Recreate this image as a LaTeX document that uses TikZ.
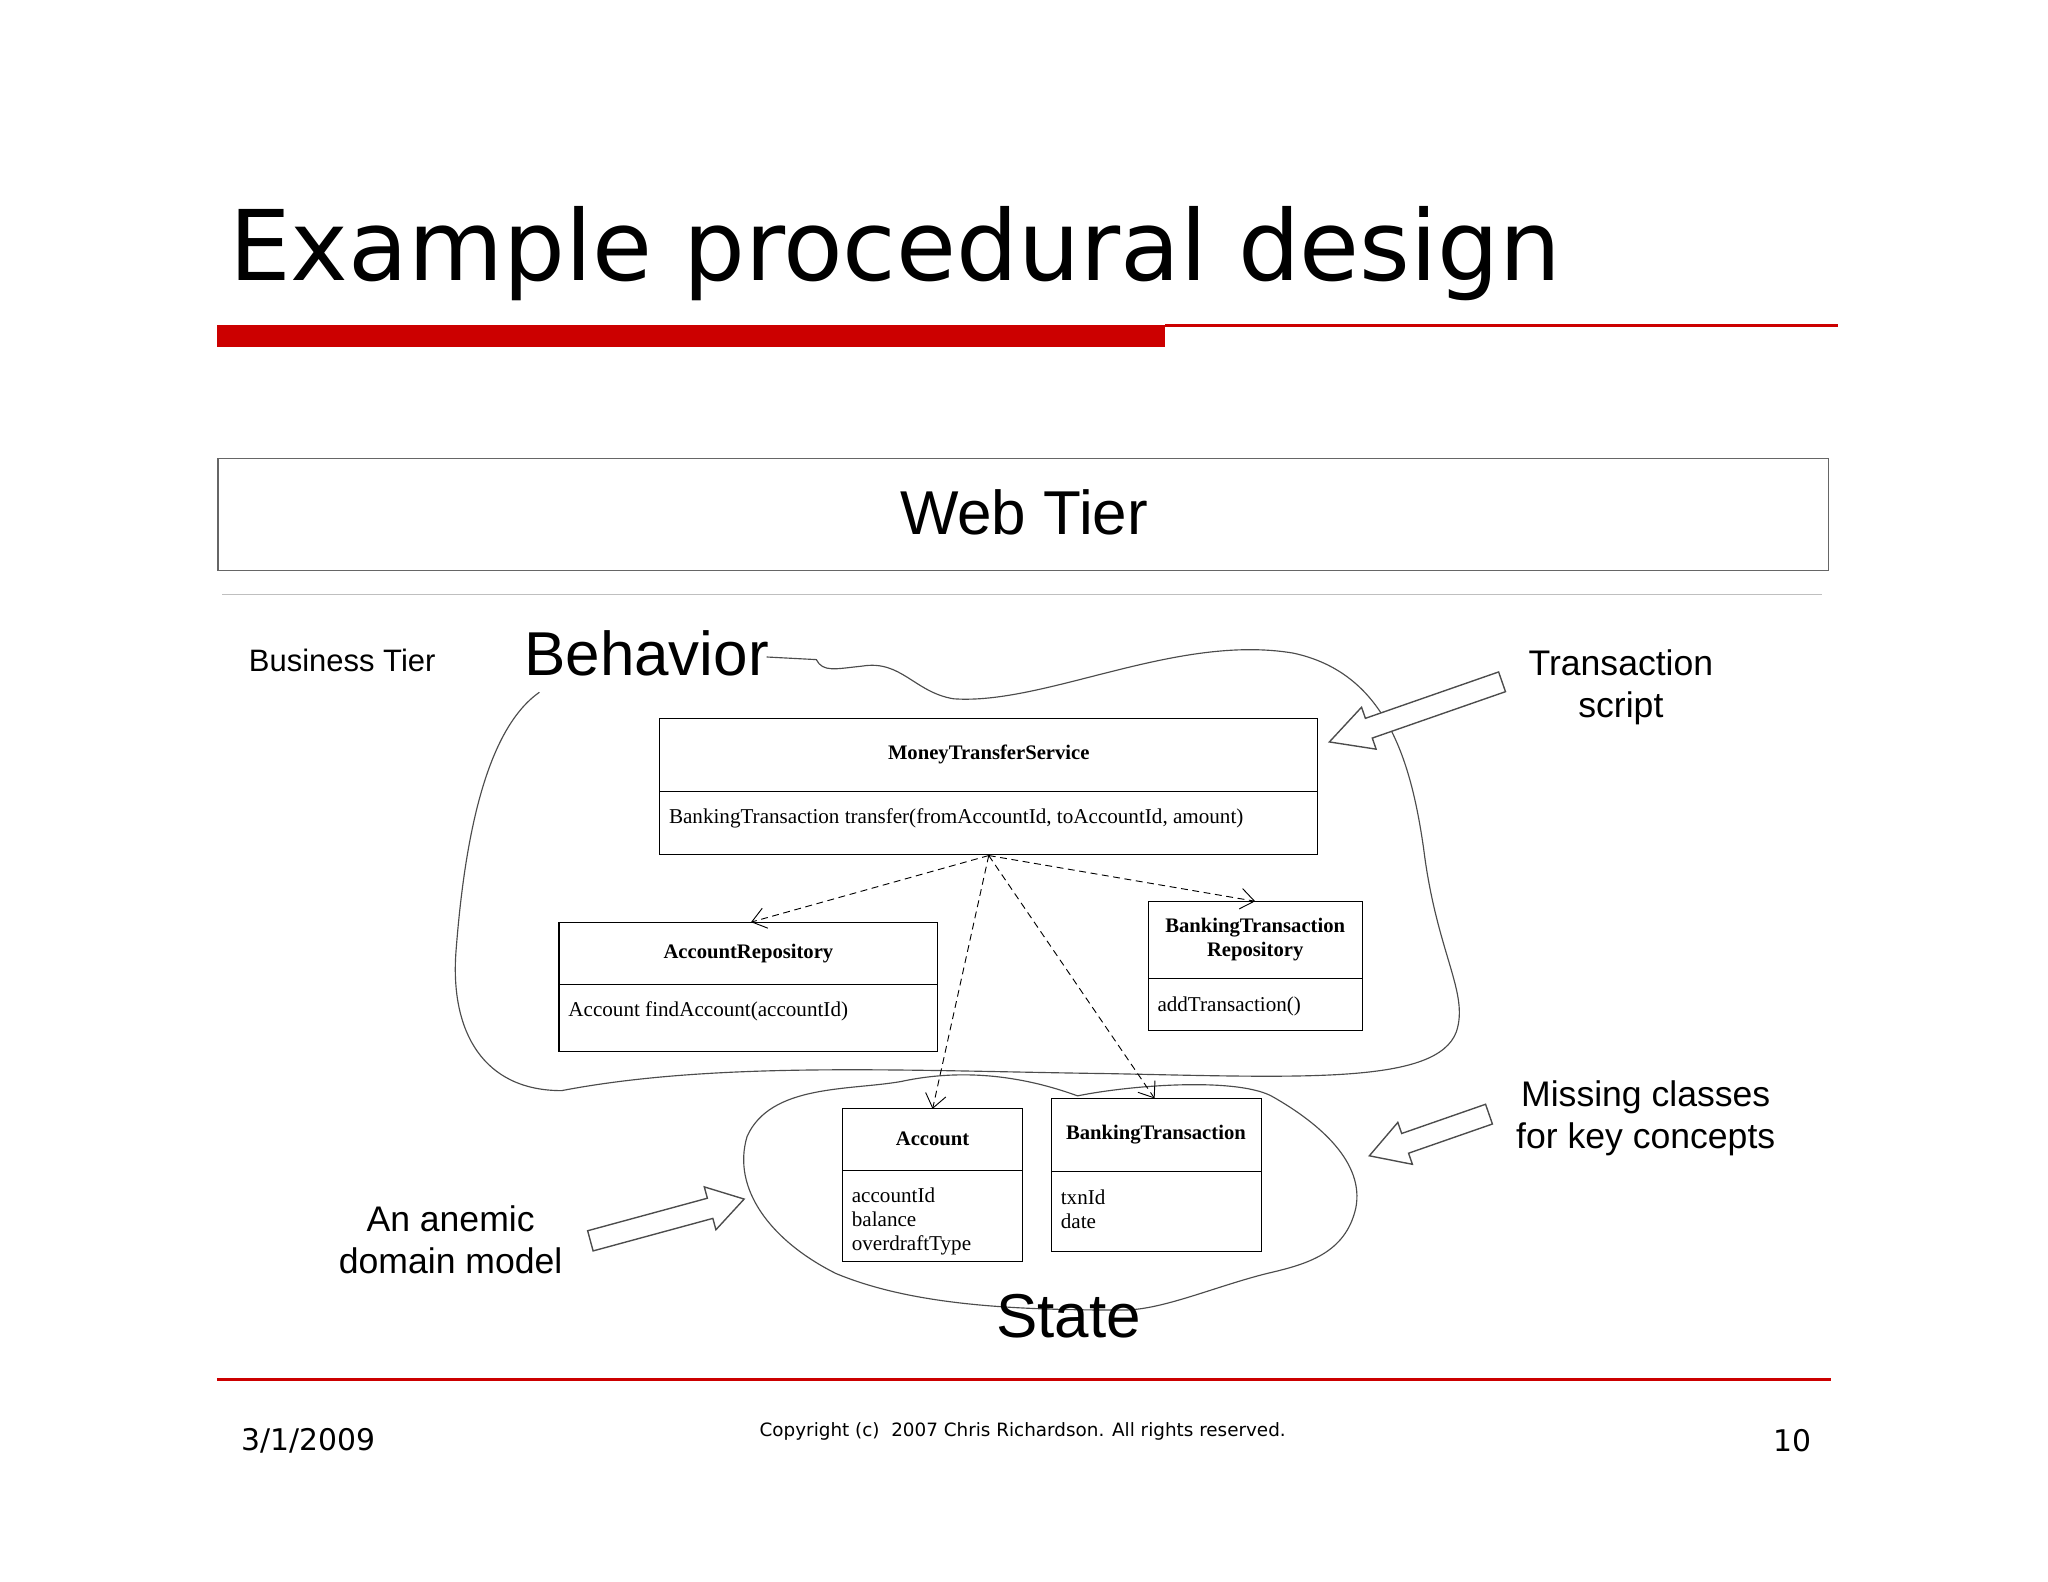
\documentclass[tikz,border=0pt]{standalone}
\usepackage{fontspec}
\setmainfont{Liberation Serif}
\newfontfamily\dv{DejaVu Sans}
\newfontfamily\ar{Liberation Sans}
\usetikzlibrary{arrows.meta}
\begin{document}
\begin{tikzpicture}[x=0.02cm,y=-0.02cm,
  cls/.style={draw,line width=0.5pt,inner sep=0pt},
  dep/.style={densely dashed,line width=0.4pt,-{Straight Barb[length=6pt,width=9pt]}},
  blob/.style={draw=black!70,line width=0.5pt},
  barrow/.style={draw=black!70,line width=0.6pt,fill=white},
  ttl/.style={font=\fontsize{9}{10.5}\selectfont\bfseries},
  body/.style={font=\fontsize{9.2}{10.5}\selectfont,anchor=north west,align=left}]
\useasboundingbox (0,0) rectangle (1568,1211);
\fill[white] (0,0) rectangle (1568,1211);
\node[anchor=base west,inner sep=0,font=\dv\fontsize{42.5}{48}\selectfont] (title) at (175,215) {Example procedural design};
\fill[red!80!black] (166,249) rectangle (892,266);
\draw[red!80!black,line width=1.2pt] (892,249) -- (1407,249);
\draw[black!60,line width=0.6pt] (167,351) rectangle (1400,437);
\node[font=\ar\fontsize{27}{32}\selectfont] (web) at (784,392) {Web Tier};
\draw[black!25,line width=0.4pt] (170,455) -- (1395,455);
\node[font=\ar\fontsize{13.5}{16}\selectfont] (bt) at (262,506) {Business Tier};
\node[font=\ar\fontsize{27}{32}\selectfont] (beh) at (495,500) {Behavior};
% behavior blob
\draw[blob] (587,503) -- (625,505) .. controls (630,515) and (640,512) .. (660,510)
  .. controls (690,505) and (700,530) .. (730,535)
  .. controls (800,540) and (900,485) .. (990,500)
  .. controls (1060,515) and (1080,580) .. (1090,650)
  .. controls (1100,730) and (1125,760) .. (1115,790)
  .. controls (1100,830) and (1000,825) .. (850,822)
  .. controls (700,820) and (550,812) .. (430,835)
  .. controls (370,835) and (345,790) .. (349,730)
  .. controls (355,650) and (370,560) .. (413,530);
% state blob
\draw[blob] (825,839) .. controls (870,830) and (950,825) .. (975,840)
  .. controls (1010,860) and (1045,890) .. (1038,925)
  .. controls (1030,960) and (1000,968) .. (970,975)
  .. controls (930,985) and (890,1003) .. (860,1003)
  .. controls (780,1003) and (700,1000) .. (640,975)
  .. controls (590,950) and (560,910) .. (572,870)
  .. controls (590,830) and (650,835) .. (690,828)
  .. controls (750,815) and (800,830) .. (825,839);
\node[font=\ar\fontsize{27}{32}\selectfont] (state) at (818,1008) {State};
% classes
\draw[cls] (505,550) rectangle (1009,654); \draw (505,606) -- (1009,606);
\node[ttl] (mts) at (757,578) {MoneyTransferService};
\node[body] at (506,613) {BankingTransaction transfer(fromAccountId, toAccountId, amount)};
\coordinate (mtsb) at (757,655);
\draw[cls] (428,706) rectangle (718,805); \draw (428,754) -- (718,754);
\node[ttl] (ar) at (573,730) {AccountRepository};
\node[body] at (429,761) {Account findAccount(accountId)};
\draw[cls] (879,690) rectangle (1043,789); \draw (879,749) -- (1043,749);
\node[ttl,align=center] (btr) at (961,719) {BankingTransaction\\Repository};
\node[body] at (880,757) {addTransaction()};
\draw[cls] (645,849) rectangle (783,966); \draw (645,896) -- (783,896);
\node[ttl] (acc) at (714,872) {Account};
\node[body] at (646,903) {accountId\\balance\\overdraftType};
\draw[cls] (805,841) rectangle (966,958); \draw (805,897) -- (966,897);
\node[ttl] (btx) at (885,869) {BankingTransaction};
\node[body] at (806,905) {txnId\\date};
\coordinate (arT) at (575,706); \coordinate (btrT) at (961,690);
\coordinate (accT) at (714,849); \coordinate (btxT) at (884,841);
\draw[dep] (mtsb) -- (arT);
\draw[dep] (mtsb) -- (btrT);
\draw[dep] (mtsb) -- (accT);
\draw[dep] (mtsb) -- (btxT);
% block arrows
\draw[barrow,shift={(1150,522)},rotate=199.2] (0,-8) -- (108,-8) -- (108,-17) -- (140,0) -- (108,17) -- (108,8) -- (0,8) -- cycle;
\draw[barrow,shift={(1140,853)},rotate=199.2] (0,-8) -- (68,-8) -- (68,-17) -- (97,0) -- (68,17) -- (68,8) -- (0,8) -- cycle;
\draw[barrow,shift={(452,950)},rotate=15.2] (0,-8) -- (95,-8) -- (95,-17) -- (122,0) -- (95,17) -- (95,8) -- (0,8) -- cycle;
\node[font=\ar\fontsize{15.5}{18.5}\selectfont,align=center] (ts) at (1241,526) {Transaction\\script};
\node[font=\ar\fontsize{15.5}{18.5}\selectfont,align=center] (mc) at (1260,856) {Missing classes\\for key concepts};
\node[font=\ar\fontsize{15.5}{18.5}\selectfont,align=center] (adm) at (345,949) {An anemic\\domain model};
% footer
\draw[red!80!black,line width=1.2pt] (166,1056) -- (1402,1056);
\node[font=\dv\fontsize{13}{16}\selectfont] (date) at (236,1103) {3/1/2009};
\node[font=\dv\fontsize{8}{10}\selectfont] (copy) at (783,1096) {Copyright (c)\ \ 2007 Chris Richardson. All rights reserved.};
\node[font=\dv\fontsize{13}{16}\selectfont] (pg) at (1372,1103) {10};
\end{tikzpicture}
\end{document}
